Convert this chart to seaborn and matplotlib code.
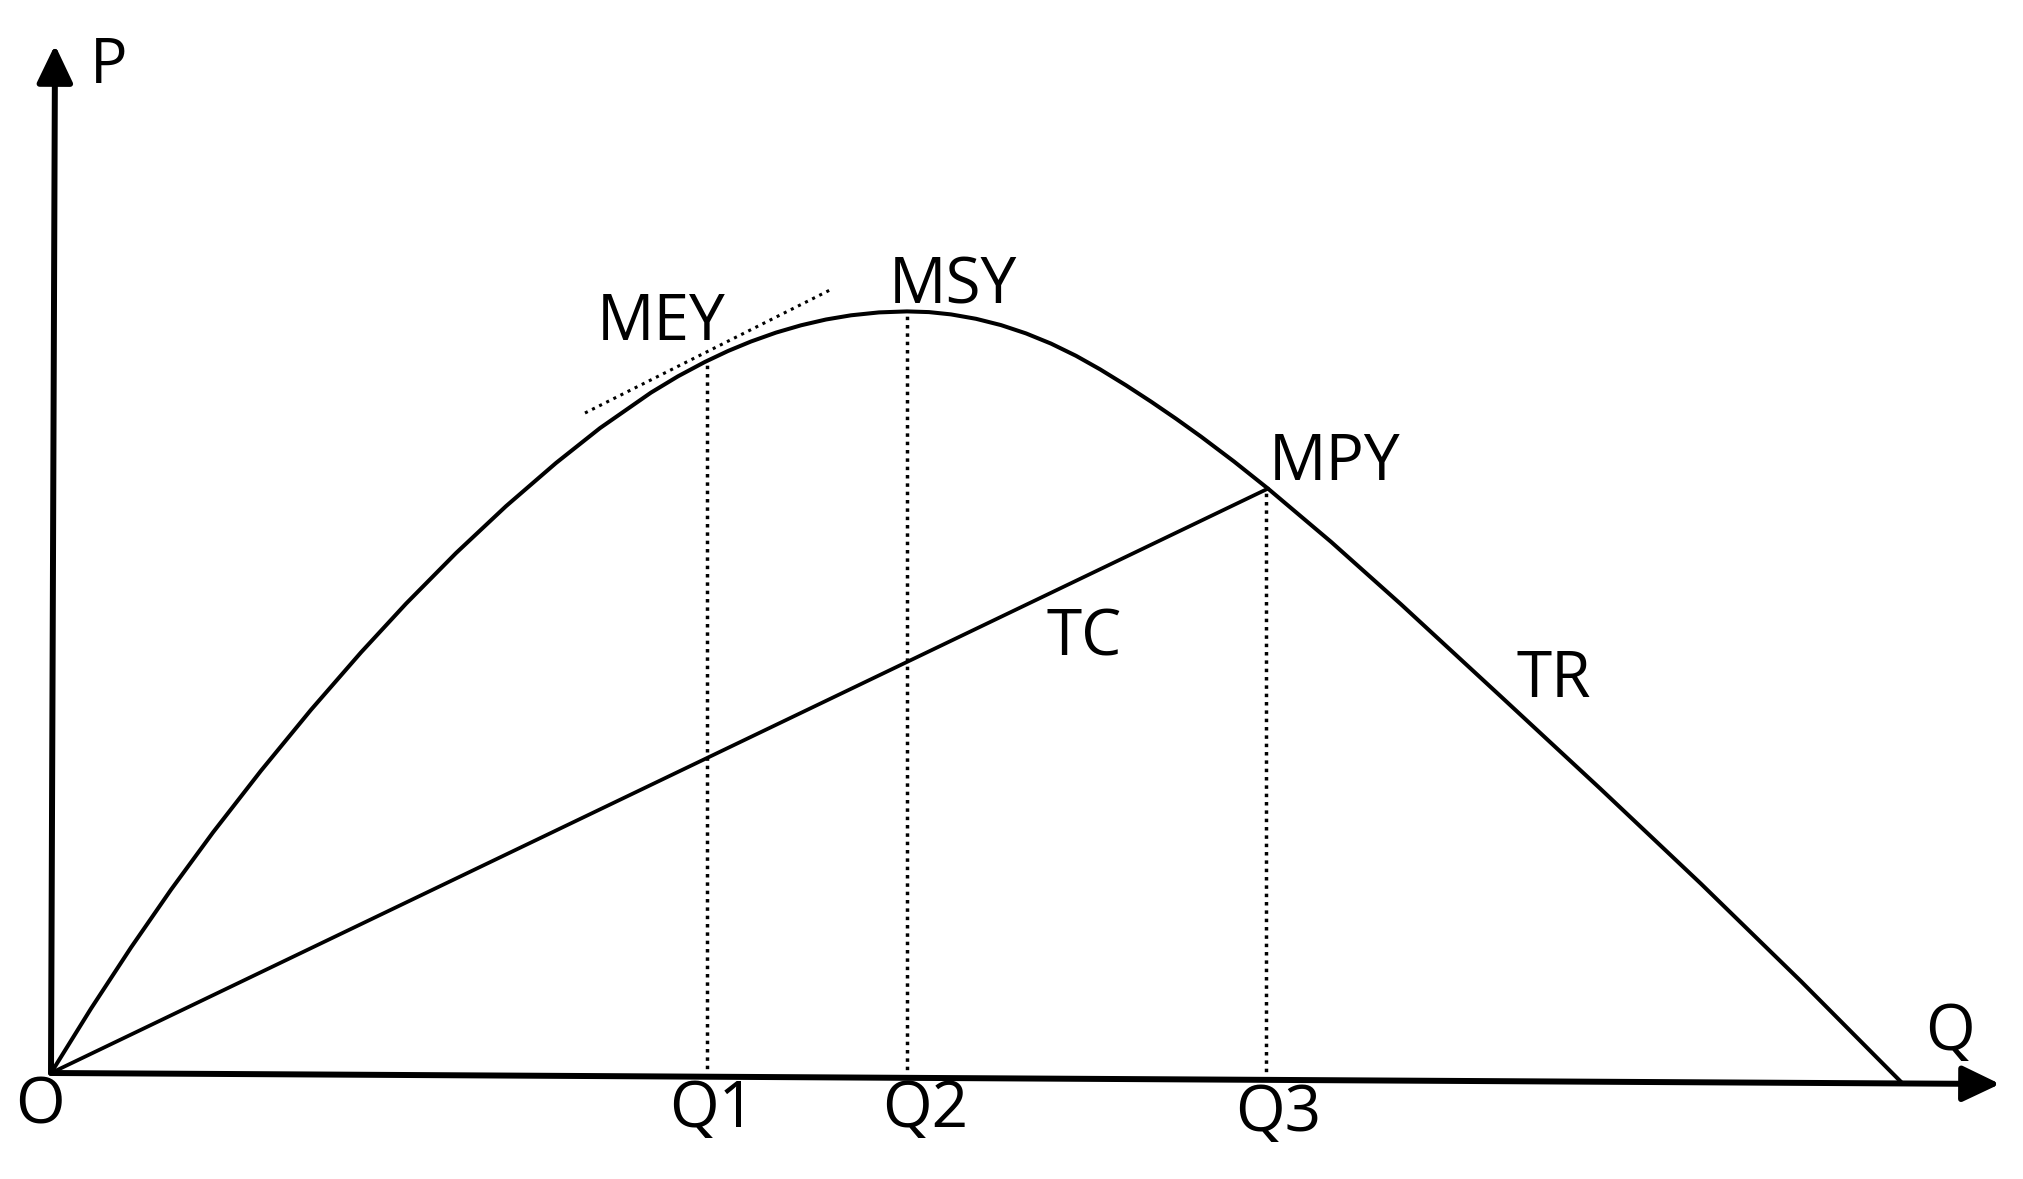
import matplotlib
matplotlib.use("Agg")
import matplotlib.pyplot as plt
import pandas as pd
import seaborn as sns

# ── Data (units ≈ pixels from origin O) ──────────────────────────────────────

tr_q = [0, 40, 80, 120, 162, 210, 260, 310, 355, 405, 455, 505, 549, 600,
        627, 654, 677, 700, 725, 750, 775, 800, 828, 856, 878, 900, 925,
        950, 975, 1000, 1025, 1049, 1075, 1100, 1125, 1150, 1183, 1217,
        1280, 1350, 1450, 1549, 1650, 1750, 1851]
tr_p = [0, 64.4, 125.5, 183.3, 240.6, 302.3, 363.2, 420.6, 469.3, 519.9,
        566.8, 610.0, 644.9, 680.4, 696.7, 711.1, 722.0, 731.5, 740.4,
        747.7, 753.5, 757.7, 760.6, 761.6, 760.9, 758.6, 754.2, 747.9,
        739.6, 729.4, 717.2, 703.7, 687.7, 671.4, 654.3, 636.4, 611.5,
        584.4, 531.2, 468.7, 376.4, 284.6, 189.2, 91.7, -9.9]

tc_q = [0, 1217]
tc_p = [0, 584.4]

# tangent at MEY (parallel to TC)
tangent_q = [534, 779]
tangent_p = [660, 783]

# Q1 (MEY), Q2 (MSY), Q3 (MPY) drop lines
drop_q = [656, 856, 1215]
drop_top = [712, 762, 584]
drop_bottom = [-4, -5, -7]

# axes ends
y_axis_tip = (4, 1028)
x_axis_tip = (1949, -11)

point_labels = ["MEY", "MSY", "MPY"]
point_label_xy = [(610, 733), (902, 770), (1284, 593)]
curve_labels = ["TC", "TR"]
curve_label_xy = [(1033, 418), (1503, 376)]
tick_labels = ["O", "Q1", "Q2", "Q3"]
tick_label_xy = [(-11, -51), (661, -54), (874, -54), (1227, -58)]

# ── Plot ─────────────────────────────────────────────────────────────────────

sns.set_theme(style="white")
plt.rcParams["font.family"] = ["Open Sans", "DejaVu Sans"]
plt.rcParams["text.color"] = "black"

fig = plt.figure(figsize=(20.23, 11.79), dpi=100)
ax = fig.add_axes([0, 0, 1, 1])
ax.set_xlim(-51, 1972)
ax.set_ylim(-106, 1073)
ax.axis("off")

tr = pd.DataFrame({"Q": tr_q, "P": tr_p})
tc = pd.DataFrame({"Q": tc_q, "P": tc_p})
sns.lineplot(data=tr, x="Q", y="P", sort=False, estimator=None,
             color="black", lw=2.9, ax=ax)
sns.lineplot(data=tc, x="Q", y="P", sort=False, estimator=None,
             color="black", lw=2.7, ax=ax)

tan_line, = ax.plot(tangent_q, tangent_p, color="black", lw=2.2)
tan_line.set_dashes((1, 1.6))

ax.vlines(drop_q, drop_bottom, drop_top, colors="black", lw=2.5,
          linestyles=[(0, (1, 1.4))])

# axes with arrowheads
arrow = dict(arrowstyle="-|>,head_length=23,head_width=11", mutation_scale=1,
             color="black", lw=4.3, shrinkA=0, shrinkB=0)
ax.annotate("", xy=y_axis_tip, xytext=(0, 0), arrowprops=arrow)
ax.annotate("", xy=x_axis_tip, xytext=(0, 0), arrowprops=arrow)

ax.text(58, 990, "P", fontsize=45, ha="center", va="baseline")
ax.text(1899, 23, "Q", fontsize=46, ha="center", va="baseline")

for lbl, (x, y) in zip(point_labels, point_label_xy):
    ax.text(x, y, lbl, fontsize=46, ha="center", va="baseline")
for lbl, (x, y) in zip(curve_labels, curve_label_xy):
    ax.text(x, y, lbl, fontsize=46, ha="center", va="baseline")
for lbl, (x, y) in zip(tick_labels, tick_label_xy):
    ax.text(x, y, lbl, fontsize=46, ha="center", va="baseline")

fig.savefig("out.png", dpi=100, facecolor="white")
